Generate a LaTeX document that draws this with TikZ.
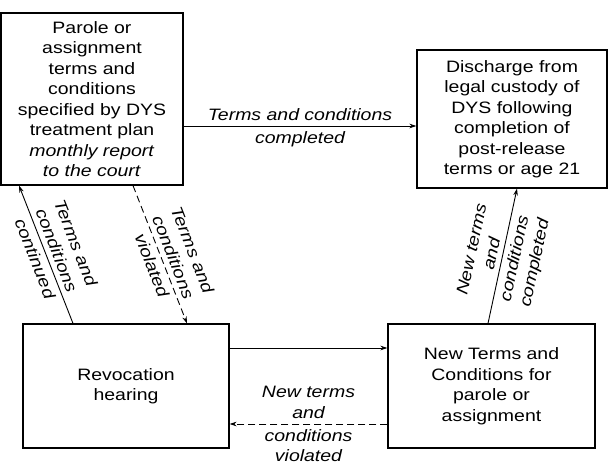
\documentclass[tikz,border=0pt]{standalone}
\usepackage{fontspec}
\setmainfont{Liberation Sans}[FakeStretch=1.18]
\usetikzlibrary{arrows.meta}

\begin{document}
\begin{tikzpicture}
[x=1pt,y=-1pt,font=\fontsize{16.5}{20.5}\selectfont]
\tikzset{box/.style={draw,line width=1.1pt,align=center,inner sep=2pt}}
\tikzset{lab/.style={font=\fontsize{16.5}{20.5}\selectfont\itshape,align=center,inner sep=5pt}}
\tikzset{arr/.style={-{Stealth[length=7pt,width=4.5pt]},line width=.9pt}}
\tikzset{dsh/.style={arr,dash pattern=on 7pt off 4pt}}
\useasboundingbox (0,0) rectangle (608,468);

\node [box,minimum width=182pt,minimum height=172pt] (parole) at (92,99)
	{Parole or\\assignment\\terms and\\conditions\\specified by DYS\\treatment plan\\\textit{monthly report}\\\textit{to the court}};
\node [box,minimum width=190pt,minimum height=138pt] (disch) at (512,119)
	{Discharge from\\legal custody of\\DYS following\\completion of\\post-release\\terms or age 21};
\node [box,minimum width=206pt,minimum height=124pt] (rev) at (126,386)
	{Revocation\\hearing};
\node [box,minimum width=207pt,minimum height=124pt] (newt) at (491.5,386)
	{New Terms and\\Conditions for\\parole or\\assignment};

% top
\draw [arr] ([yshift=-27pt]parole.east) -- ([yshift=-27pt]parole.east -| disch.west)
	node [lab,midway,above] {Terms and conditions}
	node [lab,midway,below] {completed};
% left pair
\draw [arr] ([xshift=-53pt]rev.north) -- ([xshift=-73pt]parole.south)
	node [lab,midway,sloped,above] {Terms and\\conditions}
	node [lab,midway,sloped,below] {continued};
\draw [dsh] ([xshift=41pt]parole.south) -- ([xshift=61pt]rev.north)
	node [lab,pos=.55,sloped,above] {Terms and\\conditions}
	node [lab,pos=.55,sloped,below] {violated};
% right
\draw [arr] ([xshift=-3.5pt]newt.north) -- ([xshift=5pt]disch.south)
	node [lab,midway,sloped,above] {New terms\\and}
	node [lab,midway,sloped,below] {conditions\\completed};
% bottom pair
\draw [arr] ([yshift=38pt]rev.east) -- ([yshift=38pt]rev.east -| newt.west);
\draw [dsh] ([yshift=-38pt]newt.west) -- ([yshift=-38pt]newt.west -| rev.east)
	node [lab,midway,above] {New terms\\and}
	node [lab,midway,below] {conditions\\violated};

\end{tikzpicture}
\end{document}
